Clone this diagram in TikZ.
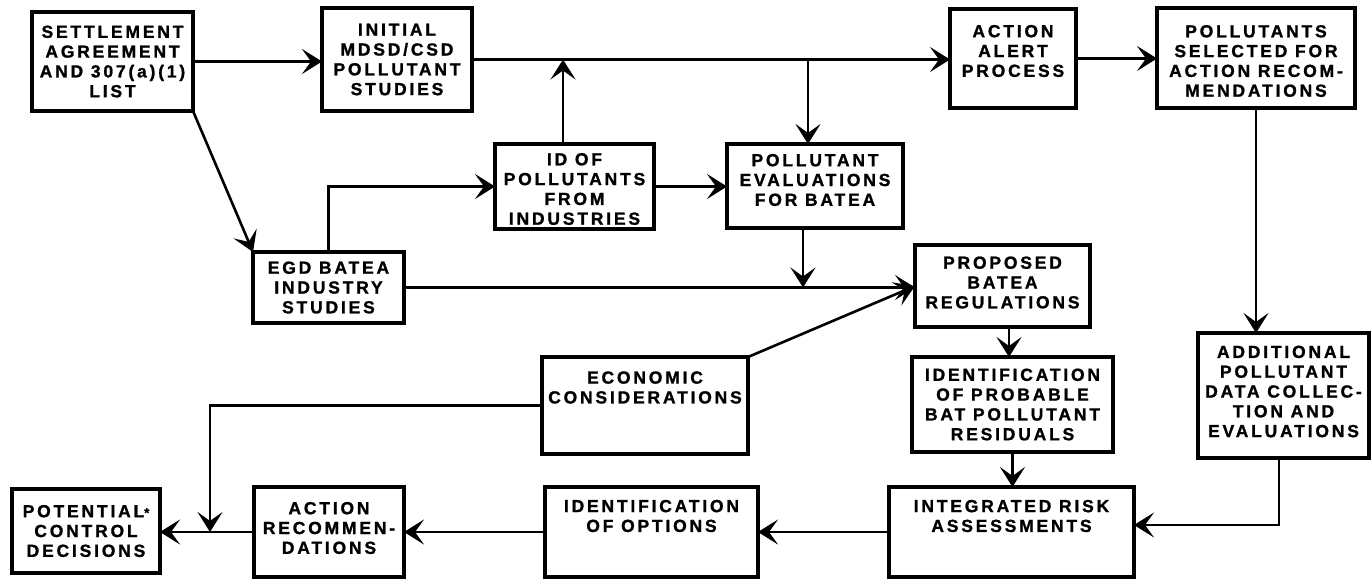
\documentclass[tikz,border=0pt]{standalone}
\usepackage{fontspec}
\newfontfamily\boxfont[LetterSpace=16, BoldFeatures={FakeBold=1.2}]{Liberation Sans}
\usetikzlibrary{arrows.meta}
\begin{document}
\begin{tikzpicture}[x=1pt,y=-1pt,
  box/.style={draw, line width=3.2pt, inner sep=0pt, outer sep=0pt},
  lbl/.style={align=center, inner sep=0pt, font=\boxfont\bfseries\fontsize{17.5}{19.8}\selectfont},
  conn/.style={line width=2.6pt, -{Stealth[length=20pt,width=25pt,inset=9pt]}}]
\fill[white] (0,0) rectangle (1371,581);
\useasboundingbox (0,0) rectangle (1371,581);

% boxes
\node[box, minimum width=161pt, minimum height=99pt]  (settle)   at (112.5,61.5) {};
\node[box, minimum width=150pt, minimum height=103pt] (initial)  at (397,59.5) {};
\node[box, minimum width=126pt, minimum height=99pt]  (alert)    at (1013,58.5) {};
\node[box, minimum width=198pt, minimum height=100pt] (selected) at (1256,58) {};
\node[box, minimum width=159pt, minimum height=85pt]  (idpoll)   at (574.5,186.5) {};
\node[box, minimum width=176pt, minimum height=84pt]  (evalb)    at (815,186) {};
\node[box, minimum width=151pt, minimum height=71pt]  (egd)      at (328.5,287.5) {};
\node[box, minimum width=175pt, minimum height=82pt]  (proposed) at (1002.5,286) {};
\node[box, minimum width=206pt, minimum height=97pt]  (econ)     at (645,405.5) {};
\node[box, minimum width=201pt, minimum height=95pt]  (probable) at (1012.5,404.5) {};
\node[box, minimum width=171pt, minimum height=125pt] (additional) at (1283.5,395.5) {};
\node[box, minimum width=148pt, minimum height=84pt]  (potential) at (86,531) {};
\node[box, minimum width=150pt, minimum height=90pt]  (actrec)   at (329,532) {};
\node[box, minimum width=213pt, minimum height=90pt]  (options)  at (651.5,532) {};
\node[box, minimum width=245pt, minimum height=90pt]  (integrated) at (1011.5,532) {};

% box texts
\node[lbl] (t-settle)   at (settle.center)   {SETTLEMENT\\AGREEMENT\\AND 307(a)(1)\\LIST};
\node[lbl] (t-initial)  at (initial.center)  {INITIAL\\MDSD/CSD\\POLLUTANT\\STUDIES};
\node[lbl, yshift=7.5pt] (t-alert) at (alert.center) {ACTION\\ALERT\\PROCESS};
\node[lbl, yshift=-3pt] (t-selected) at (selected.center) {POLLUTANTS\\SELECTED FOR\\ACTION RECOM-\\MENDATIONS};
\node[lbl, yshift=-2.5pt] (t-idpoll) at (idpoll.center) {ID OF\\POLLUTANTS\\FROM\\INDUSTRIES};
\node[lbl, yshift=6pt] (t-evalb) at (evalb.center) {POLLUTANT\\EVALUATIONS\\FOR BATEA};
\node[lbl] (t-egd) at (egd.center) {EGD BATEA\\INDUSTRY\\STUDIES};
\node[lbl, yshift=3.5pt] (t-proposed) at (proposed.center) {PROPOSED\\BATEA\\REGULATIONS};
\node[lbl, yshift=18pt] (t-econ) at (econ.center) {ECONOMIC\\CONSIDERATIONS};
\node[lbl] (t-probable) at (probable.center) {IDENTIFICATION\\OF PROBABLE\\BAT POLLUTANT\\RESIDUALS};
\node[lbl, yshift=4pt] (t-additional) at (additional.center) {ADDITIONAL\\POLLUTANT\\DATA COLLEC-\\TION AND\\EVALUATIONS};
\node[lbl] (t-potential) at (potential.center) {POTENTIAL{\fontsize{13}{13}\selectfont *}\\CONTROL\\DECISIONS};
\node[lbl, yshift=4pt] (t-actrec) at (actrec.center) {ACTION\\RECOMMEN-\\DATIONS};
\node[lbl, yshift=16pt] (t-options) at (options.center) {IDENTIFICATION\\OF OPTIONS};
\node[lbl, yshift=16pt] (t-integrated) at (integrated.center) {INTEGRATED RISK\\ASSESSMENTS};

% junction points on the connectors
\coordinate (jup)   at (563,59.5);
\coordinate (jdown) at (808,59.5);
\coordinate (jmerge) at (803,287.5);
\coordinate (jprop) at (1009,0);
\coordinate (jadd)  at (1279,525);
\coordinate (jecon) at (210,532);

% top row
\draw[conn] (settle.east) -- (settle.east -| initial.west);
\draw[conn] (initial.east) -- (initial.east -| alert.west);
\draw[conn] (alert.east) -- (alert.east -| selected.west);
\draw[conn] (idpoll.north -| jup) -- (jup);
\draw[conn] (jdown) -- (jdown |- evalb.north);

% middle
\draw[conn] (settle.south east) -- (egd.north west);
\draw[conn] (egd.north) |- (idpoll.west);
\draw[conn] (idpoll.east) -- (idpoll.east -| evalb.west);
\draw[conn] (egd.east) -- (egd.east -| proposed.west);
\draw[conn] (evalb.south -| jmerge) -- (jmerge);
\draw[conn] (econ.north east) -- (proposed.west);
\draw[conn] (proposed.south -| jprop) -- (probable.north -| jprop);
\draw[conn] (selected.south) -- (selected.south |- additional.north);

% bottom row
\draw[conn] (probable.south) -- (probable.south |- integrated.north);
\draw[conn] (additional.south -| jadd) -- (jadd) -- (jadd -| integrated.east);
\draw[conn] (integrated.west) -- (integrated.west -| options.east);
\draw[conn] (options.west) -- (options.west -| actrec.east);
\draw[conn] (actrec.west) -- (actrec.west -| potential.east);
\draw[conn] (econ.west) -| (jecon);
\end{tikzpicture}
\end{document}
